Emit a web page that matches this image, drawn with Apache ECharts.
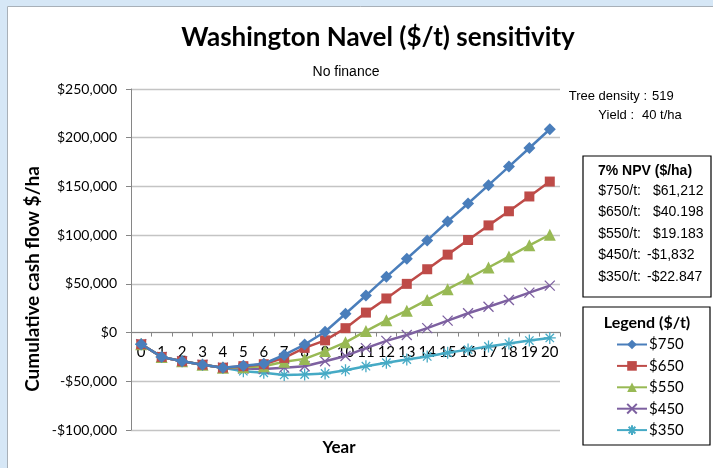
<!DOCTYPE html>
<html>
<head>
<meta charset="utf-8">
<script src="https://cdn.jsdelivr.net/npm/echarts@6/dist/echarts.min.js"></script>
<style>
  html, body { margin: 0; padding: 0; background: #ffffff; }
  #chart { width: 713px; height: 468px; }
</style>
</head>
<body>
<div id="chart"></div>
<script>
const years = ['0','1','2','3','4','5','6','7','8','9','10','11','12','13','14','15','16','17','18','19','20'];
const yTicks = { min: -100000, max: 250000, interval: 50000 };
const seriesNames = ['$750', '$650', '$550', '$450', '$350'];
const price750 = [-12000,-25000,-29500,-33000,-36000,-34000,-32000,-23000,-12300,800,19300,38000,57200,75800,94600,114000,132500,151300,170400,189400,208700];
const price650 = [-12000,-25000,-29500,-33000,-36000,-34500,-32500,-26000,-15700,-8000,4500,20500,35000,50000,65000,80000,95000,110000,124500,139700,155000];
const price550 = [-12000,-25000,-29500,-33000,-36000,-35500,-34500,-30000,-27000,-19000,-10000,1500,12600,22500,33500,44500,55500,66800,78000,89500,100400];
const price450 = [-12000,-25000,-29500,-33000,-36000,-37000,-37500,-36000,-34500,-29400,-24000,-16000,-8500,-2500,4600,12300,19800,26500,33500,41000,48200];
const price350 = [-12000,-25000,-29500,-33000,-36000,-39600,-41300,-43500,-43000,-42000,-38600,-34500,-31000,-27700,-24500,-20800,-17500,-14300,-11300,-8200,-5500];
const npvLabels = ['$750/t:', '$650/t:', '$550/t:', '$450/t:', '$350/t:'];
const npvValues = ['$61,212', '$40.198', '$19.183', '-$1,832', '-$22.847'];
const titleText = 'Washington Navel ($/t) sensitivity';
const subtitleText = 'No finance';
const yAxisName = 'Cumulative cash flow $/ha';
const xAxisName = 'Year';
const infoLines = [['Tree density :', '519'], ['Yield :', '40 t/ha']];
const legendTitle = 'Legend ($/t)';

const allData = [price750, price650, price550, price450, price350];
const colors = ['#4A7EBB', '#BE4B48', '#98B954', '#7D60A0', '#46AAC5'];
const symbols = [
  'diamond',
  'rect',
  'triangle',
  'path://M0,0L10,10M10,0L0,10',
  'path://M5,0L5,10M0,5L10,5M1.5,1.5L8.5,8.5M8.5,1.5L1.5,8.5'
];
const symSizes = [12, 10, 12, 10, 12];

const series = allData.map((d, i) => {
  const stroked = i >= 3;
  return {
    name: seriesNames[i],
    type: 'line',
    data: d,
    symbol: symbols[i],
    symbolSize: symSizes[i],
    showAllSymbol: true,
    lineStyle: { color: colors[i], width: 2.5 },
    itemStyle: stroked
      ? { color: 'none', borderColor: colors[i], borderWidth: 1.3 }
      : { color: colors[i], borderColor: colors[i], borderWidth: 0 },
    emphasis: { disabled: true },
    z: 10 - i
  };
});

const calibri = 'Lato, "Open Sans", sans-serif';
const arial = '"Liberation Sans", Arial, sans-serif';

const gridTop = 89, gridBottom = 38, chartH = 468;
const plotH = chartH - gridTop - gridBottom;
const zeroOffset = -plotH * (0 - yTicks.min) / (yTicks.max - yTicks.min);

const graphics = [
  { type: 'rect', shape: { x: 0, y: 0, width: 713, height: 6 }, style: { fill: '#d6e7f6' }, z: 100 },
  { type: 'rect', shape: { x: 0, y: 0, width: 7, height: 468 }, style: { fill: '#d6e7f6' }, z: 100 },
  { type: 'line', shape: { x1: 7.5, y1: 6.5, x2: 713, y2: 6.5 }, style: { stroke: '#a8b0b8', lineWidth: 1 }, z: 100 },
  { type: 'line', shape: { x1: 7.5, y1: 6.5, x2: 7.5, y2: 468 }, style: { stroke: '#a8b0b8', lineWidth: 1 }, z: 100 },
  { type: 'text', x: 378, y: 38, style: { text: titleText, font: 'bold 26px ' + calibri, fill: '#000', align: 'center', verticalAlign: 'middle' } },
  { type: 'text', x: 346, y: 72, style: { text: subtitleText, font: '14px ' + arial, fill: '#000', align: 'center', verticalAlign: 'middle' } },
  { type: 'text', x: 33, y: 279, rotation: Math.PI / 2, style: { text: yAxisName, font: 'bold 19px ' + calibri, fill: '#000', align: 'center', verticalAlign: 'middle' } },
  { type: 'text', x: 339, y: 448, style: { text: xAxisName, font: 'bold 17px ' + calibri, fill: '#000', align: 'center', verticalAlign: 'middle' } },
  { type: 'text', x: 647, y: 96, style: { text: infoLines[0][0], font: '13px ' + arial, fill: '#000', align: 'right', verticalAlign: 'middle' } },
  { type: 'text', x: 652, y: 96, style: { text: infoLines[0][1], font: '13px ' + arial, fill: '#000', align: 'left', verticalAlign: 'middle' } },
  { type: 'text', x: 634, y: 115, style: { text: infoLines[1][0], font: '13px ' + arial, fill: '#000', align: 'right', verticalAlign: 'middle' } },
  { type: 'text', x: 642, y: 115, style: { text: infoLines[1][1], font: '13px ' + arial, fill: '#000', align: 'left', verticalAlign: 'middle' } },
  { type: 'rect', shape: { x: 583, y: 156, width: 128, height: 141 }, style: { fill: '#fff', stroke: '#000', lineWidth: 1.2 } },
  { type: 'text', x: 645, y: 171, style: { text: '7% NPV ($/ha)', font: 'bold 14px ' + arial, fill: '#000', align: 'center', verticalAlign: 'middle' } },
  { type: 'rect', shape: { x: 583, y: 307, width: 127, height: 138 }, style: { fill: '#fff', stroke: '#000', lineWidth: 1.2 } },
  { type: 'text', x: 647, y: 323, style: { text: legendTitle, font: 'bold 16px ' + calibri, fill: '#000', align: 'center', verticalAlign: 'middle' } }
];
const npvY = [191, 212.5, 234, 255.5, 277];
npvLabels.forEach((lab, i) => {
  graphics.push({ type: 'text', x: 641, y: npvY[i], style: { text: lab, font: '14px ' + arial, fill: '#000', align: 'right', verticalAlign: 'middle' } });
  const vx = npvValues[i].startsWith('-') ? 647 : 653;
  graphics.push({ type: 'text', x: vx, y: npvY[i], style: { text: npvValues[i], font: '14px ' + arial, fill: '#000', align: 'left', verticalAlign: 'middle' } });
});

const chart = echarts.init(document.getElementById('chart'), null, { renderer: 'canvas' });
chart.setOption({
  backgroundColor: '#ffffff',
  animation: false,
  color: colors,
  grid: { left: 131, right: 153, top: gridTop, bottom: gridBottom, containLabel: false },
  xAxis: {
    type: 'category',
    data: years,
    boundaryGap: true,
    offset: zeroOffset,
    axisLine: { onZero: false, lineStyle: { color: '#868686', width: 1 } },
    axisTick: { show: true, length: 4, alignWithLabel: false, lineStyle: { color: '#868686' } },
    axisLabel: { interval: 0, margin: 12, fontSize: 15, fontFamily: calibri, color: '#000' },
    splitLine: { show: false }
  },
  yAxis: {
    type: 'value',
    min: yTicks.min,
    max: yTicks.max,
    interval: yTicks.interval,
    axisLine: { show: true, lineStyle: { color: '#868686', width: 1 } },
    axisTick: { show: true, length: 5, lineStyle: { color: '#868686' } },
    axisLabel: {
      margin: 14, fontSize: 14, fontFamily: calibri, color: '#000',
      formatter: v => (v < 0 ? '-$' : '$') + Math.abs(v).toLocaleString('en-US')
    },
    splitLine: { show: true, lineStyle: { color: '#c4c4c4', width: 1.3 } }
  },
  legend: {
    orient: 'vertical',
    left: 611,
    top: 332,
    itemWidth: 30,
    itemHeight: 12,
    itemGap: 6.4,
    textStyle: { fontSize: 15, fontFamily: calibri, color: '#000', padding: [0, 0, 0, -3] },
    data: seriesNames,
    selectedMode: false
  },
  graphic: graphics,
  series: series
});
</script>
</body>
</html>
